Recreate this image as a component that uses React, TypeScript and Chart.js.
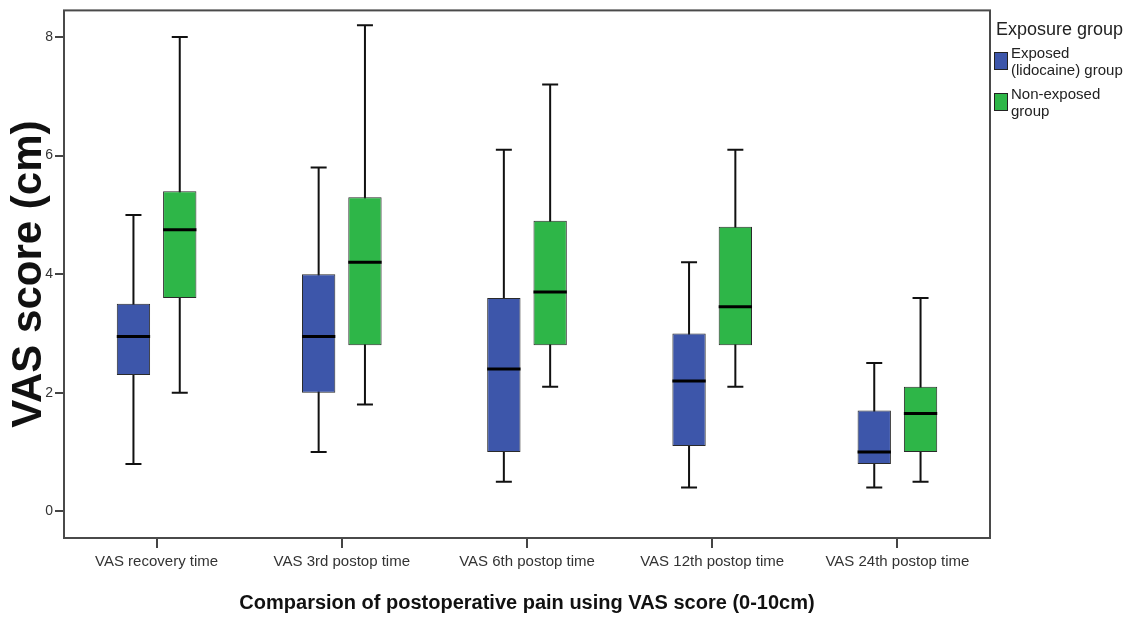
import React, { useEffect, useRef } from "react";
import { Chart, registerables } from "chart.js";

Chart.register(...registerables);

const categories = [
  "VAS recovery time",
  "VAS 3rd postop time",
  "VAS 6th postop time",
  "VAS 12th postop time",
  "VAS 24th postop time",
];

const exposedMin = [0.8, 1.0, 0.5, 0.4, 0.4];
const exposedQ1 = [2.3, 2.0, 1.0, 1.1, 0.8];
const exposedMedian = [2.95, 2.95, 2.4, 2.2, 1.0];
const exposedQ3 = [3.5, 4.0, 3.6, 3.0, 1.7];
const exposedMax = [5.0, 5.8, 6.1, 4.2, 2.5];

const nonExposedMin = [2.0, 1.8, 2.1, 2.1, 0.5];
const nonExposedQ1 = [3.6, 2.8, 2.8, 2.8, 1.0];
const nonExposedMedian = [4.75, 4.2, 3.7, 3.45, 1.65];
const nonExposedQ3 = [5.4, 5.3, 4.9, 4.8, 2.1];
const nonExposedMax = [8.0, 8.2, 7.2, 6.1, 3.6];

const yTicks = [0, 2, 4, 6, 8];

const legendTitle = "Exposure group";
const exposedLabel = ["Exposed", "(lidocaine) group"];
const nonExposedLabel = ["Non-exposed", "group"];

const BLUE = "#3D56AA";
const GREEN = "#2EB648";
const FONT = "'Liberation Sans', Arial, sans-serif";

export default function App() {
  const ref = useRef<HTMLCanvasElement | null>(null);

  useEffect(() => {
    if (!ref.current) return;
    const stats = [
      { min: exposedMin, q1: exposedQ1, med: exposedMedian, q3: exposedQ3, max: exposedMax },
      { min: nonExposedMin, q1: nonExposedQ1, med: nonExposedMedian, q3: nonExposedQ3, max: nonExposedMax },
    ];

    const boxPlugin = {
      id: "boxParts",
      beforeDatasetsDraw(chart: any) {
        const ctx = chart.ctx;
        const y = chart.scales.y;
        ctx.save();
        ctx.strokeStyle = "#111";
        ctx.lineWidth = 2;
        chart.data.datasets.forEach((_: any, di: number) => {
          const meta = chart.getDatasetMeta(di);
          const s = stats[di];
          meta.data.forEach((el: any, i: number) => {
            const x = el.x;
            const yMin = y.getPixelForValue(s.min[i]);
            const yMax = y.getPixelForValue(s.max[i]);
            const cap = 8;
            ctx.beginPath();
            ctx.moveTo(x, yMin);
            ctx.lineTo(x, yMax);
            ctx.moveTo(x - cap, yMin);
            ctx.lineTo(x + cap, yMin);
            ctx.moveTo(x - cap, yMax);
            ctx.lineTo(x + cap, yMax);
            ctx.stroke();
          });
        });
        ctx.restore();
      },
      afterDatasetsDraw(chart: any) {
        const ctx = chart.ctx;
        const y = chart.scales.y;
        ctx.save();
        ctx.strokeStyle = "#000";
        ctx.lineWidth = 3;
        chart.data.datasets.forEach((_: any, di: number) => {
          const meta = chart.getDatasetMeta(di);
          const s = stats[di];
          meta.data.forEach((el: any, i: number) => {
            const ym = y.getPixelForValue(s.med[i]);
            ctx.beginPath();
            ctx.moveTo(el.x - el.width / 2, ym);
            ctx.lineTo(el.x + el.width / 2, ym);
            ctx.stroke();
          });
        });
        const a = chart.chartArea;
        ctx.strokeStyle = "#4a4a4a";
        ctx.lineWidth = 2;
        ctx.strokeRect(a.left, a.top, a.right - a.left, a.bottom - a.top);
        ctx.restore();
      },
      afterDraw(chart: any) {
        const ctx = chart.ctx;
        const a = chart.chartArea;
        const lx = a.right + 4;
        ctx.save();
        ctx.fillStyle = "#222";
        ctx.textBaseline = "middle";
        ctx.textAlign = "left";
        ctx.font = `18px ${FONT}`;
        ctx.fillText(legendTitle, lx + 2, 30);
        const items = [
          { lines: exposedLabel, color: BLUE, y: 52 },
          { lines: nonExposedLabel, color: GREEN, y: 93 },
        ];
        ctx.font = `15px ${FONT}`;
        items.forEach((it) => {
          ctx.fillStyle = it.color;
          ctx.fillRect(lx, it.y, 14, 18);
          ctx.strokeStyle = "#222";
          ctx.lineWidth = 1;
          ctx.strokeRect(lx + 0.5, it.y + 0.5, 13, 17);
          ctx.fillStyle = "#222";
          it.lines.forEach((ln, k) => {
            ctx.fillText(ln, lx + 17, it.y + 2 + k * 17);
          });
        });
        ctx.restore();
      },
    };

    const chart = new Chart(ref.current, {
      type: "bar",
      data: {
        labels: categories,
        datasets: [
          {
            label: exposedLabel.join(" "),
            data: exposedQ1.map((v, i) => [v, exposedQ3[i]]),
            backgroundColor: BLUE,
            borderColor: "#2a2a2a",
            borderWidth: 1,
            borderSkipped: false,
          },
          {
            label: nonExposedLabel.join(" "),
            data: nonExposedQ1.map((v, i) => [v, nonExposedQ3[i]]),
            backgroundColor: GREEN,
            borderColor: "#2a2a2a",
            borderWidth: 1,
            borderSkipped: false,
          },
        ],
      } as any,
      options: {
        animation: false,
        responsive: true,
        maintainAspectRatio: false,
        layout: { padding: { top: 8, right: 146, left: 0, bottom: 0 } },
        categoryPercentage: 0.5,
        barPercentage: 0.72,
        plugins: { legend: { display: false }, tooltip: { enabled: false } },
        scales: {
          x: {
            offset: true,
            border: { display: false },
            grid: {
              offset: false,
              drawOnChartArea: false,
              drawTicks: true,
              tickLength: 10,
              color: "#444",
              lineWidth: 2,
            },
            ticks: {
              color: "#333",
              font: { family: FONT, size: 15 },
              padding: 5,
              maxRotation: 0,
            },
            title: {
              display: true,
              text: "Comparsion of postoperative pain using VAS score (0-10cm)",
              color: "#111",
              font: { family: FONT, size: 20, weight: "bold" },
              padding: { top: 0, bottom: 2 },
            },
            afterFit: (s: any) => {
              s.height = 79;
            },
          },
          y: {
            min: -0.45,
            max: 8.45,
            border: { display: false },
            grid: {
              drawOnChartArea: false,
              drawTicks: true,
              tickLength: 9,
              color: "#444",
              lineWidth: 2,
            },
            ticks: {
              color: "#333",
              font: { family: FONT, size: 14 },
              padding: 2,
            },
            afterBuildTicks: (s: any) => {
              s.ticks = yTicks.map((v) => ({ value: v }));
            },
            title: {
              display: true,
              text: "VAS score (cm)",
              color: "#111",
              font: { family: FONT, size: 42, weight: "bold" },
              padding: { top: 4, bottom: 0 },
            },
            afterFit: (s: any) => {
              s.width = 64;
            },
          },
        },
      } as any,
      plugins: [boxPlugin],
    });
    return () => chart.destroy();
  }, []);

  return (
    <div style={{ position: "fixed", left: 0, top: 0, width: 1136, height: 617, background: "#fff" }}>
      <canvas ref={ref} />
    </div>
  );
}
